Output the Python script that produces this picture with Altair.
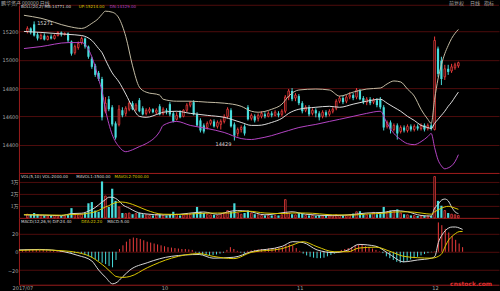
import altair as alt
import pandas as pd

# ---------------- data ----------------
idx = list(range(128))

O = [15200, 15221, 15250, 15179, 15150, 15171, 15143, 15164, 15150, 15171,
     15193, 15179, 15186, 15129, 15050, 15086, 15121, 15150, 15093, 15007,
     14957, 14907, 14864, 14636, 14721, 14664, 14550, 14543, 14643, 14621,
     14650, 14693, 14650, 14714, 14657, 14621, 14636, 14650, 14629, 14671,
     14621, 14643, 14686, 14621, 14579, 14629, 14600, 14643, 14679, 14700,
     14614, 14571, 14536, 14521, 14550, 14564, 14529, 14543, 14564, 14600,
     14643, 14543, 14479, 14507, 14529, 14664, 14586, 14600, 14586, 14600,
     14614, 14600, 14621, 14607, 14621, 14614, 14636, 14736, 14779, 14729,
     14743, 14693, 14643, 14664, 14621, 14643, 14621, 14600, 14629, 14614,
     14636, 14657, 14707, 14729, 14707, 14736, 14750, 14736, 14779, 14729,
     14700, 14721, 14700, 14714, 14721, 14664, 14529, 14557, 14507, 14536,
     14493, 14521, 14500, 14529, 14507, 14529, 14514, 14536, 14514, 14536,
     14507, 15079, 14993, 14879, 14936, 14921, 14943, 14957]
C = [15221, 15193, 15171, 15150, 15171, 15143, 15164, 15150, 15171, 15193,
     15179, 15186, 15136, 15043, 15093, 15114, 15150, 15093, 15021, 14950,
     14893, 14864, 14593, 14693, 14650, 14543, 14450, 14650, 14607, 14657,
     14693, 14650, 14679, 14636, 14614, 14643, 14650, 14629, 14643, 14614,
     14650, 14636, 14614, 14564, 14607, 14593, 14643, 14679, 14700, 14614,
     14536, 14500, 14493, 14550, 14571, 14529, 14557, 14564, 14593, 14650,
     14529, 14464, 14507, 14521, 14479, 14579, 14607, 14571, 14607, 14621,
     14600, 14621, 14607, 14629, 14607, 14636, 14736, 14779, 14721, 14750,
     14693, 14636, 14664, 14614, 14643, 14621, 14593, 14629, 14607, 14636,
     14650, 14707, 14729, 14700, 14736, 14750, 14729, 14786, 14721, 14700,
     14721, 14693, 14714, 14679, 14664, 14521, 14557, 14507, 14536, 14479,
     14521, 14500, 14529, 14507, 14529, 14514, 14536, 14507, 14536, 14514,
     15136, 14900, 14864, 14936, 14914, 14950, 14964, 14979]
H = [15236, 15229, 15271, 15193, 15186, 15186, 15171, 15179, 15179, 15200,
     15200, 15193, 15193, 15136, 15107, 15129, 15164, 15157, 15100, 15021,
     14971, 14921, 14879, 14736, 14743, 14679, 14564, 14679, 14664, 14671,
     14707, 14707, 14693, 14729, 14671, 14657, 14664, 14657, 14657, 14686,
     14664, 14657, 14700, 14636, 14629, 14643, 14650, 14693, 14707, 14714,
     14629, 14586, 14550, 14564, 14579, 14579, 14571, 14579, 14614, 14664,
     14657, 14557, 14521, 14536, 14543, 14679, 14621, 14614, 14621, 14636,
     14629, 14636, 14636, 14643, 14636, 14650, 14750, 14793, 14800, 14764,
     14757, 14707, 14679, 14679, 14657, 14657, 14636, 14643, 14643, 14650,
     14664, 14721, 14743, 14743, 14750, 14771, 14764, 14800, 14793, 14743,
     14736, 14736, 14729, 14729, 14736, 14679, 14571, 14571, 14550, 14550,
     14536, 14536, 14543, 14543, 14543, 14543, 14550, 14550, 14550, 14550,
     15164, 15093, 15021, 14964, 14964, 14971, 14979, 14986]
L = [15186, 15179, 15164, 15136, 15143, 15136, 15136, 15143, 15143, 15164,
     15164, 15171, 15121, 15029, 15036, 15071, 15107, 15079, 15007, 14936,
     14879, 14850, 14571, 14621, 14636, 14529, 14436, 14529, 14593, 14600,
     14636, 14643, 14636, 14629, 14607, 14607, 14621, 14621, 14614, 14607,
     14607, 14614, 14600, 14557, 14571, 14586, 14593, 14629, 14664, 14607,
     14529, 14486, 14479, 14507, 14536, 14521, 14514, 14507, 14550, 14586,
     14521, 14429, 14457, 14486, 14464, 14571, 14571, 14557, 14564, 14586,
     14586, 14593, 14593, 14600, 14593, 14600, 14621, 14714, 14707, 14707,
     14679, 14621, 14629, 14600, 14607, 14593, 14571, 14586, 14593, 14600,
     14621, 14643, 14693, 14686, 14693, 14721, 14714, 14721, 14714, 14686,
     14679, 14679, 14686, 14664, 14650, 14500, 14514, 14479, 14493, 14436,
     14479, 14486, 14486, 14493, 14493, 14500, 14500, 14493, 14500, 14500,
     14500, 14879, 14821, 14857, 14893, 14907, 14929, 14943]
VOL = [3000, 2500, 4000, 3000, 2000, 2000, 1500, 1500, 2000, 2000,
       1500, 1500, 2500, 8000, 3000, 2500, 3000, 4000, 12000, 13000,
       6000, 5000, 30000, 18000, 9000, 24000, 14000, 9000, 4000, 3500,
       4000, 3000, 3500, 4000, 3000, 2500, 2000, 2000, 2500, 3000,
       2000, 2000, 3000, 5000, 3000, 2000, 2500, 3000, 3000, 4000,
       9000, 5000, 4000, 3000, 2500, 2500, 2000, 3000, 4000, 6000,
       5000, 12000, 4000, 3000, 4000, 6000, 4000, 3000, 2500, 2000,
       2000, 2000, 2000, 2000, 2000, 2500, 15000, 4000, 3000, 2500,
       4000, 3500, 2000, 2000, 2000, 1500, 2000, 1500, 1500, 1500,
       2000, 2500, 2000, 2000, 2000, 2500, 3500, 5000, 5500, 3000,
       2500, 3000, 4500, 3000, 3500, 9000, 5000, 6000, 5500, 7000,
       4000, 3000, 2500, 2000, 2000, 1500, 1500, 1500, 1500, 1500,
       34000, 14000, 10000, 6000, 4000, 3000, 2500, 2000]
MACD = [2, 2.5, 3, 3, 2.5, 2, 2, 1.5, 1.5, 1.5, 1, 1, 0.5,
        -1, -1.5, -1.5, -1, -2, -3.5, -5, -6.5, -8,
        -10, -12, -13.5, -15.5, -17, -9, 3, 7, 11, 14, 15.5, 15, 14, 12.5,
        11, 10, 9, 8, 7, 6, 5, 4.5, 4, 3.5, 3, 3, 2.5, 2,
        -1, -2.5, -3.5, -4, -4, -3.5, -3, -2, -1, 2, 5, 3, 1, -1, -2, 1,
        1.5, 2, 2.5, 3, 3, 3.5, 4, 4, 4.5, 5, 7, 8, 7,
        4, 1, -2, -4, -5.5, -6.5, -7, -7, -6.5, -5, -3.5, -2,
        0.5, 2, 3, 4, 5, 6.5, 8, 7.5, 6, 5, 3.5, 2, 0.5,
        -1.5, -5, -7, -9, -11, -12, -11.5, -10, -8.5,
        -7, -5.5, -4, -2.5, -1.5, -0.5, 0.5,
        32, 29, 25, 21, 17, 13, 9, 5]

band_i = [-1, 4, 12, 16, 19, 21, 22, 23, 25, 27, 29, 31, 33, 35, 39, 40, 44, 48, 53, 58,
          63, 66, 68, 72, 75, 77, 80, 85, 89, 92, 96, 100, 104, 106, 108, 110, 112, 114, 116, 118,
          119, 120, 121, 122, 123, 124, 125, 126, 127]
band_up = [15314, 15293, 15236, 15221, 15257, 15293, 15321, 15343, 15336, 15293,
           15164, 14957, 14807, 14771, 14750, 14721, 14707, 14707, 14700, 14693,
           14671, 14636, 14629, 14650, 14686, 14743, 14786, 14793, 14786, 14743,
           14771, 14793, 14800, 14829, 14850, 14843, 14793, 14743, 14650, 14579,
           14550, 14721, 14864, 14964, 15043, 15100, 15150, 15186, 15214]
band_mid = [15200, 15193, 15179, 15171, 15136, 15079, 15050, 15000, 14907, 14843,
            14757, 14664, 14600, 14593, 14621, 14629, 14636, 14621, 14607, 14593,
            14557, 14536, 14536, 14557, 14586, 14621, 14650, 14664, 14671, 14664,
            14686, 14707, 14721, 14693, 14664, 14636, 14600, 14571, 14536, 14521,
            14514, 14550, 14579, 14607, 14636, 14671, 14700, 14736, 14771]
band_dn = [15079, 15093, 15121, 15121, 15021, 14864, 14779, 14650, 14471, 14386,
           14350, 14364, 14386, 14407, 14493, 14536, 14564, 14536, 14514, 14486,
           14443, 14436, 14443, 14464, 14486, 14500, 14521, 14543, 14564, 14579,
           14600, 14621, 14636, 14550, 14479, 14436, 14407, 14400, 14421, 14457,
           14479, 14379, 14293, 14250, 14229, 14236, 14250, 14279, 14329]

vma_i = [-1, 5, 10, 13, 16, 18, 20, 22, 23, 24, 25, 26, 27, 28, 30, 32, 35, 40, 45, 50,
         52, 56, 60, 62, 65, 70, 76, 78, 82, 90, 96, 100, 105, 108, 112, 116, 119, 120, 121, 122,
         123, 124, 125, 126, 127]
vma5 = [2500, 2200, 1800, 3500, 3800, 5500, 8500, 13000, 15000, 17000,
        17000, 16000, 14000, 11000, 8000, 5000, 3200, 2400, 3000, 4500,
        4800, 3000, 5500, 6000, 5500, 2500, 4500, 5000, 3000, 1800,
        2800, 4000, 4500, 6000, 5000, 2000, 1500, 8000, 11000, 14500,
        15500, 14000, 9000, 5000, 3500]
vma10 = [2600, 2400, 2200, 2800, 3000, 3800, 5000, 7500, 9000, 10000,
         11500, 12500, 13000, 13000, 12000, 10000, 6500, 3000, 2800, 3500,
         3800, 4000, 4000, 4800, 5500, 4000, 3500, 4000, 4000, 2500,
         2300, 3200, 3800, 4800, 5000, 4000, 3000, 5000, 6500, 8000,
         9000, 9500, 9000, 8000, 7000]

macd_i = [-1, 5, 12, 16, 20, 22, 24, 26, 27, 29, 31, 36, 43, 51, 55, 61, 66, 75, 78, 81,
          85, 90, 94, 97, 102, 106, 110, 114, 118, 119, 120, 121, 122, 123, 124, 125, 126, 127]
dif = [2, 2.5, 0, -4, -10, -20, -28, -35, -34, -27, -20, -12, -5, -3, -7, -6, 0, 6, 11, 10,
       2, -1, 2, 8, 6, -3, -11, -9, -7, -5, 10, 18, 23, 26, 27, 27, 26, 24.4]
dea = [1.5, 2, 1, -1, -6, -11, -17, -24, -27, -28, -27, -17.5, -7, -2, -5, -7.5, -0.75, 3.5, 7.5, 11,
       5.5, 0, 0, 4, 5, 0.5, -5, -6.5, -7, -6.5, -5, -2, 6, 13, 17, 20, 22, 22.2]

price_ticks = [14200, 14400, 14600, 14800, 15000, 15200]
vol_ticks = [10000, 20000, 30000]
macd_ticks = [-20, 0, 20]
date_pos = [0, 41, 80, 119]
date_text = ["2017/07", "10", "11", "12"]

title_left = "鹏华资产 000000 日线"
title_right = ["前复权", "日线", "指标"]
watermark = "cnstock.com"

# ---------------- styles ----------------
FONT = "DejaVu Sans"
CJK = "Noto Sans CJK SC"
RED = "#f03c3c"
CYAN = "#48dcdc"
UPB = "#c4bca4"
MIDB = "#dcdcdc"
DNB = "#b444c4"
WHITE = "#d8d8d8"
YELLOW = "#dcc800"
HPOS = "#b83434"
HNEG = "#34a8a8"
GRID = "#4e0c0c"
EDGE = "#9a1c1c"
LBL = "#a8a8a8"
W = 481
H_MAIN, H_VOL, H_MACD = 173, 45, 67
CW = 2.45  # approx char width at legend font size 4

cdf = pd.DataFrame({"i": idx, "o": O, "h": H, "l": L, "c": C, "v": VOL, "m": MACD})
cdf["dir"] = ["up" if c >= o else "down" for o, c in zip(O, C)]
cdf["ms"] = ["pos" if m >= 0 else "neg" for m in MACD]
bdf = pd.DataFrame({"i": band_i, "up": band_up, "mid": band_mid, "dn": band_dn})
vdf = pd.DataFrame({"i": vma_i, "ma5": vma5, "ma10": vma10})
mdf = pd.DataFrame({"i": macd_i, "dif": dif, "dea": dea})

xs = alt.Scale(domain=[-1, 137.5], nice=False, zero=False)
x_sep = alt.Axis(labels=False, ticks=False, grid=False, domain=True, domainColor=EDGE, domainWidth=1, title=None)
date_expr = " : ".join(f"datum.value == {p} ? '{t}'" for p, t in zip(date_pos, date_text)) + " : ''"
x_date = alt.Axis(values=date_pos, labelExpr=date_expr, ticks=False, grid=False, domain=True,
                  domainColor=EDGE, labelFontSize=5, labelColor=LBL, labelPadding=1, title=None)


def xenc(axis):
    return alt.X("i:Q", scale=xs, axis=axis, title=None)


def text_layer(txt, x, y, color, size=4, font=FONT, align="left", weight="normal"):
    return alt.Chart(pd.DataFrame({"t": [txt]})).mark_text(
        align=align, baseline="middle", fontSize=size, font=font, color=color, fontWeight=weight
    ).encode(x=alt.value(x), y=alt.value(y), text="t:N")


def legend_row(parts, y):
    layers = []
    x = 2
    for txt, col in parts:
        layers.append(text_layer(txt, x, y, col))
        x += len(txt) * CW + 4
    return layers


# ---------------- main (price) panel ----------------
ys_main = alt.Scale(domain=[14200, 15420], nice=False, zero=False)
ax_main = alt.Axis(values=price_ticks, format="d", labelExpr="datum.value <= 14200 ? '' : datum.label",
                   grid=True, gridColor=GRID, gridWidth=1, domain=True, domainColor=EDGE, ticks=False,
                   labelPadding=1, labelFontSize=5, labelColor=LBL, title=None)


def ym(f):
    return alt.Y(f, scale=ys_main, axis=ax_main, title=None)


base = alt.Chart(cdf)
dir_color = alt.Color("dir:N", scale=alt.Scale(domain=["up", "down"], range=[RED, CYAN]), legend=None)
wick = base.mark_rule(strokeWidth=1).encode(x=xenc(x_sep), y=ym("l:Q"), y2="h:Q", color=dir_color)
body_up = base.transform_filter("datum.dir == 'up'").mark_bar(
    size=1.6, fill="black", stroke=RED, strokeWidth=0.8).encode(x=xenc(x_sep), y=ym("o:Q"), y2="c:Q")
body_dn = base.transform_filter("datum.dir == 'down'").mark_bar(
    size=2.2, color=CYAN).encode(x=xenc(x_sep), y=ym("o:Q"), y2="c:Q")

bl = alt.Chart(bdf)
l_up = bl.mark_line(color=UPB, strokeWidth=1, interpolate="monotone").encode(x=xenc(x_sep), y=ym("up:Q"))
l_mid = bl.mark_line(color=MIDB, strokeWidth=1, interpolate="monotone").encode(x=xenc(x_sep), y=ym("mid:Q"))
l_dn = bl.mark_line(color=DNB, strokeWidth=1, interpolate="monotone").encode(x=xenc(x_sep), y=ym("dn:Q"))

hi_i = max(idx, key=lambda k: H[k])
lo_i = min(idx, key=lambda k: L[k])
hdf = pd.DataFrame({"i": [hi_i], "p": [H[hi_i]], "t": [str(H[hi_i])]})
ldf = pd.DataFrame({"i": [lo_i], "p": [L[lo_i]], "t": [str(L[lo_i])]})
hi_txt = alt.Chart(hdf).mark_text(align="left", baseline="middle", dx=3, dy=2, fontSize=5, font=FONT,
                                  color=WHITE).encode(x=xenc(x_sep), y=ym("p:Q"), text="t:N")
lo_txt = alt.Chart(ldf).mark_text(align="right", baseline="top", dx=-3, dy=1, fontSize=5, font=FONT,
                                  color=WHITE).encode(x=xenc(x_sep), y=ym("p:Q"), text="t:N")

top_line = alt.Chart(pd.DataFrame({"a": [0]})).mark_rule(color=GRID, strokeWidth=1).encode(
    x=alt.value(0), x2=alt.value(W), y=alt.value(5))

main_legend = legend_row([
    (f"BOLL(20,2) MB:{band_mid[-1]:.2f}", WHITE),
    (f"UP:{band_up[-1]:.2f}", YELLOW),
    (f"DN:{band_dn[-1]:.2f}", DNB),
], 7)

titles = [text_layer(title_left, -18, 2.5, LBL, size=5, font=CJK)]
tx = [431, 452, 466]
for t, x in zip(title_right, tx):
    titles.append(text_layer(t, x, 2.5, LBL, size=5, font=CJK))

main = alt.layer(top_line, wick, body_up, body_dn, l_up, l_mid, l_dn, hi_txt, lo_txt,
                 *main_legend, *titles).properties(width=W, height=H_MAIN)

# ---------------- volume panel ----------------
ys_vol = alt.Scale(domain=[0, 37000], nice=False)
ax_vol = alt.Axis(values=vol_ticks, labelExpr="datum.value / 10000 + '万'", grid=True, gridColor=GRID,
                  domain=True, domainColor=EDGE, ticks=False, labelPadding=1, labelFont=CJK,
                  labelFontSize=5, labelColor=LBL, title=None)


def yv(f):
    return alt.Y(f, scale=ys_vol, axis=ax_vol, title=None)


vol_up = base.transform_filter("datum.dir == 'up'").mark_bar(
    size=1.6, fill="black", stroke=RED, strokeWidth=0.8).encode(x=xenc(x_sep), y=yv("v:Q"))
vol_dn = base.transform_filter("datum.dir == 'down'").mark_bar(
    size=2.2, color=CYAN).encode(x=xenc(x_sep), y=yv("v:Q"))
vl = alt.Chart(vdf)
ma5 = vl.mark_line(color=WHITE, strokeWidth=1, interpolate="monotone").encode(x=xenc(x_sep), y=yv("ma5:Q"))
ma10 = vl.mark_line(color=YELLOW, strokeWidth=1, interpolate="monotone").encode(x=xenc(x_sep), y=yv("ma10:Q"))
vol_legend = legend_row([
    (f"VOL(5,10) VOL:{VOL[-1]:.2f}", WHITE),
    (f"MAVOL1:{vma5[-1]:.2f}", WHITE),
    (f"MAVOL2:{vma10[-1]:.2f}", YELLOW),
], 4)
volume = alt.layer(vol_up, vol_dn, ma5, ma10, *vol_legend).properties(width=W, height=H_VOL)

# ---------------- MACD panel ----------------
ys_m = alt.Scale(domain=[-36, 37], nice=False, zero=False)
ax_m = alt.Axis(values=macd_ticks, grid=True, gridColor=GRID, domain=True, domainColor=EDGE, ticks=False,
                labelPadding=1, labelFontSize=5, labelColor=LBL, title=None)


def ymc(f):
    return alt.Y(f, scale=ys_m, axis=ax_m, title=None)


hist = base.mark_rule(strokeWidth=1).encode(
    x=xenc(x_date), y=ymc("m:Q"), y2=alt.datum(0),
    color=alt.Color("ms:N", scale=alt.Scale(domain=["pos", "neg"], range=[HPOS, HNEG]), legend=None))
ml = alt.Chart(mdf)
l_dif = ml.mark_line(color=WHITE, strokeWidth=1, interpolate="monotone").encode(x=xenc(x_date), y=ymc("dif:Q"))
l_dea = ml.mark_line(color=YELLOW, strokeWidth=1, interpolate="monotone").encode(x=xenc(x_date), y=ymc("dea:Q"))
macd_legend = legend_row([
    (f"MACD(12,26,9) DIF:{dif[-1]:.2f}", WHITE),
    (f"DEA:{dea[-1]:.2f}", YELLOW),
    (f"MACD:{MACD[-1]:.2f}", WHITE),
], 4)
wm = text_layer(watermark, 472 - 19, 66, "#e03030", size=6, align="center", weight="bold")
macd = alt.layer(hist, l_dif, l_dea, *macd_legend, wm).properties(width=W, height=H_MACD)

chart = alt.vconcat(main, volume, macd, spacing=0, bounds="flush").properties(
    background="black",
    padding={"left": 1, "top": 0, "right": 0, "bottom": 0},
).configure_view(strokeWidth=0).configure_axis(labelFont=FONT)

chart.save("out.html", embed_options={"renderer": "svg", "actions": False})
